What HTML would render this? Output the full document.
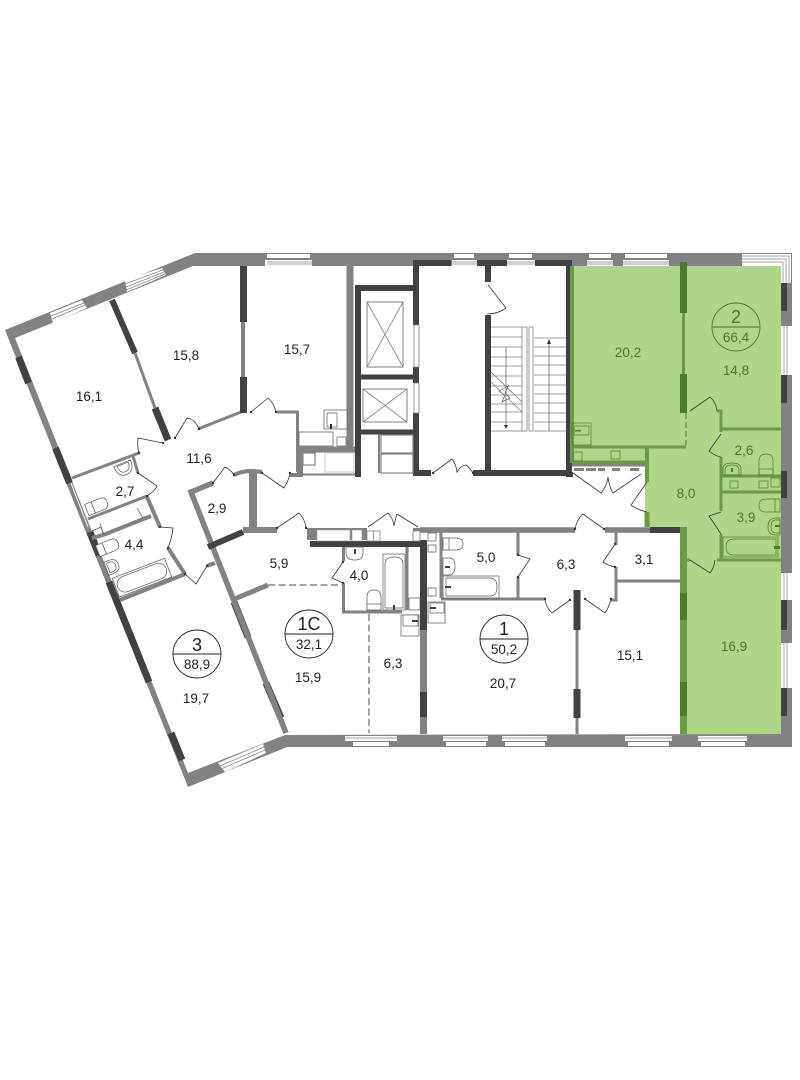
<!DOCTYPE html>
<html><head><meta charset="utf-8"><style>
html,body{margin:0;padding:0;background:#fff}
svg{display:block}
text{font-family:"Liberation Sans",sans-serif;font-size:13.5px;fill:#231f20;text-anchor:middle}
.g text,text.g{fill:#4a7a1e}
.w{fill:none;stroke:#808285}
.d{fill:none;stroke:#414042}
.m{fill:none;stroke:#6b9c45}
.k{fill:none;stroke:#4e7b26}
.dr{fill:none;stroke:#333;stroke-width:.8}
.f{fill:#fff;stroke:#58595b;stroke-width:.7}
.fg{fill:none;stroke:#4e7b26;stroke-width:.7}
.win{fill:#fff}
.wl{stroke:#808285;stroke-width:.7;fill:none}
.st{stroke:#808285;stroke-width:.8;fill:none}
</style></head><body>
<svg width="800" height="1080" viewBox="0 0 800 1080" xmlns="http://www.w3.org/2000/svg">
<rect width="800" height="1080" fill="#fff"/>
<!-- green -->
<polygon points="570,266 781,266 781,734 680,734 680,527 645,527 645,463 570,463" fill="#b0d588"/>
<!-- outer wall -->
<path fill="#808285" fill-rule="evenodd" d="M195,253 L792,253 L792,747 L287,747 L188,787 L5,330 Z M193,266 L15,338 L188,773 L285,735 L781,734 L781,266 Z"/>
<!-- top windows -->
<g class="win">
<rect x="267" y="254" width="43" height="4"/><rect x="265" y="260" width="47" height="6"/>
<rect x="454" y="254" width="20" height="4"/><rect x="452" y="260" width="25" height="6"/>
<rect x="509" y="254" width="23" height="4"/><rect x="507" y="260" width="28" height="6"/>
<rect x="589" y="254" width="22" height="4"/><rect x="587" y="260" width="26" height="6"/>
<rect x="625" y="254" width="42" height="4"/><rect x="623" y="260" width="46" height="6"/>
<rect x="742" y="254" width="49" height="12"/><rect x="781" y="254" width="10" height="29"/>
<rect x="781" y="326" width="11" height="49"/>
<rect x="781" y="573" width="11" height="27"/>
<rect x="781" y="643" width="11" height="45"/>
<rect x="345" y="736" width="52" height="5"/><rect x="353" y="742" width="36" height="4"/>
<rect x="443" y="736" width="45" height="5"/><rect x="446" y="742" width="40" height="4"/>
<rect x="502" y="736" width="45" height="5"/><rect x="505" y="742" width="40" height="4"/>
<rect x="625" y="736" width="47" height="5"/><rect x="628" y="742" width="41" height="4"/>
<rect x="698" y="736" width="49" height="5"/><rect x="701" y="742" width="44" height="4"/>
<polygon points="50,313 82,300 87,308 53,323"/>
<polygon points="125,280 162,268 166,275 127,292"/>
<polygon points="218,763 263,744 266,753 225,772"/>
</g>
<g class="wl">
<path d="M267,262H312M267,264H312M452,262H477M452,264H477M507,262H535M507,264H535M587,262H613M587,264H613M623,262H669M623,264H669"/>
<path d="M742,256H789V283M742,259H786V283M742,262H783V283"/>
<path d="M784,326V375M787,326V375M784,573V600M787,573V600M784,643V688M787,643V688"/>
<path d="M345,738H397M443,738H488M502,738H547M625,738H672M698,738H747"/>
<path d="M51,316L84,303M52,319L85,305M125,284L163,270M126,287L164,272M126,290L165,274"/>
<path d="M220,766L264,747M221,769L265,750"/>
</g>
<path d="M71,483L88,527" stroke="#fff" stroke-width="1" fill="none"/>
<!-- outer dark -->
<g class="d" stroke-width="7">
<path d="M18.5,357L28.5,383"/>
<path d="M55.5,448L69.5,483"/>
<path d="M90,532L99,555"/>
<path d="M109,582L149,682"/>
<path d="M171,733L182,760"/>
<path d="M234,602L248,637"/>
<path d="M266,683L281,718"/>
<path d="M784,283V311" stroke-width="6"/><path d="M784,375V403" stroke-width="6"/><path d="M784,471V498" stroke-width="6"/><path d="M784,600V630" stroke-width="6"/><path d="M784,688V716" stroke-width="6"/>
</g>
<!-- interior gray walls -->
<rect x="307" y="528" width="60" height="12" fill="#808285"/>
<rect x="413" y="528" width="7" height="12" fill="#808285"/>
<g class="w" stroke-width="3">
<path d="M135,353L155,408" stroke-width="3"/>
<path d="M198,429L241,412"/>
<path d="M243,322V377" stroke-width="4"/>
<path d="M72,478L139,453"/>
<path d="M133,456L138,473"/>
<path d="M88,519L147,496"/>
<path d="M103,535L151,516" stroke-width="4"/>
<path d="M92,538L103,535" stroke-width="4"/>
<path d="M147,497L160,527" stroke-width="4"/>
<path d="M168,548L185,574" stroke-width="4"/>
<path d="M120,600L185,574" stroke-width="4"/>
<path d="M207,566L215,563" stroke-width="4"/>
<path d="M213,483L191,492L286,733" stroke-width="5.5"/>
<path d="M243,530H277" stroke-width="6"/>
<path d="M253,470V533" stroke-width="8"/>
<path d="M234,475Q245,469 262,472" stroke-width="4"/>
<path d="M297.5,472V412H277" stroke-width="3"/>
<path d="M290,475H303" stroke-width="4"/>
<path d="M232,600L268,585" stroke-width="5"/>
<path d="M350,266V450" stroke-width="7"/>
<path d="M298,449.5H355" stroke-width="6"/>
<path d="M300,450V476" stroke-width="6"/>
<path d="M303,474.5H358" stroke-width="2"/>
<path d="M420,530H575" stroke-width="5.5"/>
<path d="M605,530H650" stroke-width="5.5"/>
<path d="M441,530V598" stroke-width="3"/>
<path d="M441,599H545"/>
<path d="M518,532V555M518,577V600"/>
<path d="M611,600H616V567M616,545V529"/>
<path d="M616,581H680"/>
<path d="M343.5,545V561M343.5,583V613"/>
<path d="M342,612H402"/>
<path d="M407,547V610"/>
<path d="M423.5,630V692M423.5,717V734" stroke-width="7"/>
<path d="M577,630V690M577,718V734"/>
<path d="M572,465H648" stroke-width="3"/>
</g>
<path class="w" stroke-width="1.5" d="M268,585H343M369,614V733" stroke-dasharray="7 3.5"/>
<!-- interior dark walls -->
<g class="d">
<path d="M112,300L135,353" stroke-width="6"/>
<path d="M155,408L168,440" stroke-width="7"/>
<path d="M243.5,266V322M243.5,377V413" stroke-width="7"/>
<path d="M208,547L243,532" stroke-width="6"/>
<path d="M413,263H451M477,263H507M535,263H572" stroke-width="6"/>
<path d="M416,265V325M416,367V383M416,413V476" stroke-width="6"/>
<path d="M355,288H416" stroke-width="6"/>
<path d="M358,285V477" stroke-width="6"/>
<path d="M358,377H416M358,432H416" stroke-width="5"/>
<path d="M414,473H431" stroke-width="6"/>
<path d="M488,264V282M488,315V473" stroke-width="6"/>
<path d="M473,473H572" stroke-width="6"/>
<path d="M569,263V477" stroke-width="6"/>
<path d="M310,544H420" stroke-width="6"/>
<path d="M423.5,540V630M423.5,692V717" stroke-width="7"/>
<path d="M577,590V630M577,689V718" stroke-width="7"/>
<path d="M650,530H680" stroke-width="6"/>
</g>
<path d="M414,325H419V367H414ZM414,383H419V413H414Z" fill="#fff" stroke="#808285" stroke-width=".8"/>
<!-- green walls -->
<g class="m" stroke-width="3">
<path d="M572,266V463" stroke-width="4"/>
<path d="M683.5,313V374"/>
<path d="M570,447H686"/>
<path d="M647,447V482" stroke-width="4"/>
<path d="M572,462H647"/>
<path d="M717,411H721V432"/>
<path d="M721,429H781"/>
<path d="M721,457V511"/>
<path d="M721,476H781M721,492H781"/>
<path d="M721,534V560"/>
<path d="M717,560H781M683,560H690"/>
<path d="M683.5,527V734" stroke-width="7"/>
<path d="M647,512V527" stroke-width="5"/>
</g>
<path class="m" stroke-width="1.5" stroke-dasharray="6 3" d="M686,413V445"/>
<g class="k">
<path d="M683.5,262V313M683.5,374V413" stroke-width="7"/>
<path d="M683.5,593V620M683.5,682V716" stroke-width="7"/>
</g>
<!-- elevators -->
<g style="fill:none;stroke:#808285;stroke-width:.8">
<rect x="367" y="302" width="36" height="65" style="stroke-width:1"/>
<path d="M367,302L403,367M403,302L367,367"/>
<rect x="363" y="389" width="44" height="33" style="stroke-width:1"/>
<path d="M363,389L407,422M407,389L363,422"/>
</g>
<!-- shafts -->
<g style="fill:none;stroke:#808285;stroke-width:1.2">
<rect x="381" y="435" width="32" height="18"/>
<rect x="381" y="454" width="32" height="19"/>
<path d="M379,434V473" stroke-width="2"/>
<rect x="303" y="453" width="12" height="12"/>
<rect x="325" y="453" width="29" height="19" stroke="#d0d0d0"/>
</g>
<g class="f">
<rect x="324" y="410" width="23" height="19"/>
<rect x="327" y="413" width="10" height="14"/>
<rect x="299" y="432" width="34" height="14"/>
<rect x="337" y="437" width="9" height="9"/>
</g>
<path d="M331,424V429" stroke="#333" stroke-width="2"/>
<!-- stairs -->
<g class="st">
<path d="M491,327H522M491,337H522M491,347H522M491,357H522M491,366H522M491,376H522M491,386H522M491,395H522M491,404H522M491,412H522M491,422H522"/>
<path d="M534,338H566M534,347H566M534,356H566M534,365H566M534,375H566M534,385H566M534,394H566M534,403H566M534,413H566M534,422H566"/>
<path d="M491,431H522M534,431H566" stroke-width="1.6" stroke="#bbb"/>
<rect x="522" y="327" width="5" height="104"/>
<rect x="529" y="327" width="4" height="104"/>
<path d="M491,372L522,402M491,382L522,412"/>
</g>
<polygon points="499,391 508,386 505,393 510,398 502,402 505,395" fill="#fff" stroke="#555" stroke-width=".7"/>
<path d="M506,347V426M549,342V431" stroke="#555" stroke-width=".7" fill="none"/>
<path d="M504,425H508L506,429ZM547,344H551L549,339Z" fill="#333"/>
<!-- corridor closet -->
<rect x="317" y="530" width="33" height="11" fill="#fff" stroke="#999" stroke-width=".6"/>
<rect x="352" y="530" width="10" height="11" fill="#fff" stroke="#999" stroke-width=".6"/>
<rect x="367" y="531" width="13" height="10" fill="#fff" stroke="#808285" stroke-width=".8"/>
<rect x="413" y="531" width="7" height="10" fill="#fff" stroke="#808285" stroke-width=".8"/>
<path d="M373.5,531V540" stroke="#808285" stroke-width=".8"/>
<!-- cupboard strip under green -->
<g fill="#808285"><rect x="574" y="468" width="10" height="3"/><rect x="586" y="468" width="10" height="3"/><rect x="598" y="468" width="7" height="3"/><rect x="612" y="468" width="8" height="3"/><rect x="630" y="468" width="9" height="3"/></g>
<rect x="566" y="472" width="7" height="5" fill="#414042"/>
<!-- doors -->
<g class="dr">
<path d="M175,438L187,418Q195,419 199,429"/>
<path d="M163,443L138,438Q137,446 139,453"/>
<path d="M138,473L157,486Q155,491 147,496"/>
<path d="M160,527L173,528Q172,538 168,548"/>
<path d="M185,574L196,584L207,566"/>
<path d="M213,483L225,467Q231,470 234,475"/>
<path d="M262,473L284,488Q289,480 290,473"/>
<path d="M251,412L268,398Q274,403 276,412"/>
<path d="M277,528L299,513Q305,519 306,528"/>
<path d="M368,527L388,513Q393,518 394,526M397,514Q395,520 394,526M397,514L418,527"/>
<path d="M433,473L452,459Q456,464 457,472Q460,466 466,465Q470,468 473,473"/>
<path d="M488,285L506,308Q498,314 487,314"/>
<path d="M518,555L530,559L518,577"/>
<path d="M545,599Q546,608 552,613L570,600"/>
<path d="M585,599L605,613Q609,607 611,599"/>
<path d="M575,529Q577,519 583,514L604,529"/>
<path d="M615,544L603,562Q609,566 615,567"/>
<path d="M573,473L601,493Q607,486 608,477Q609,486 613,493L641,474"/>
<path d="M647,482L631,505Q638,510 647,512"/>
<path d="M690,411L710,397Q716,402 717,411"/>
<path d="M721,434L709,451Q715,456 721,457"/>
<path d="M721,512L709,516L721,534"/>
<path d="M690,560L710,573Q714,568 715,560"/>
<path d="M343,562L332,578L343,583"/>
</g>
<g fill="#333">
<circle cx="175" cy="438" r="1.2"/><circle cx="199" cy="429" r="1.2"/><circle cx="163" cy="443" r="1.2"/><circle cx="139" cy="453" r="1.2"/><circle cx="138" cy="473" r="1.2"/><circle cx="147" cy="496" r="1.2"/><circle cx="160" cy="527" r="1.2"/><circle cx="168" cy="548" r="1.2"/><circle cx="185" cy="574" r="1.2"/><circle cx="207" cy="566" r="1.2"/><circle cx="213" cy="483" r="1.2"/><circle cx="234" cy="475" r="1.2"/><circle cx="262" cy="473" r="1.2"/><circle cx="290" cy="473" r="1.2"/><circle cx="251" cy="412" r="1.2"/><circle cx="276" cy="412" r="1.2"/><circle cx="277" cy="528" r="1.2"/><circle cx="306" cy="528" r="1.2"/><circle cx="433" cy="473" r="1.2"/><circle cx="473" cy="473" r="1.2"/><circle cx="518" cy="555" r="1.2"/><circle cx="518" cy="577" r="1.2"/><circle cx="545" cy="599" r="1.2"/><circle cx="570" cy="600" r="1.2"/><circle cx="585" cy="599" r="1.2"/><circle cx="611" cy="599" r="1.2"/><circle cx="575" cy="529" r="1.2"/><circle cx="604" cy="529" r="1.2"/><circle cx="615" cy="544" r="1.2"/><circle cx="615" cy="567" r="1.2"/><circle cx="343" cy="562" r="1.2"/><circle cx="343" cy="583" r="1.2"/>
</g>
<!-- left bathroom fixtures -->
<g class="f">
<g transform="rotate(-22 124 468)"><path d="M115,463H133Q133,475 124,475Q115,475 115,463Z"/><path d="M118,464H130Q130,472 124,472Q118,472 118,464Z"/></g>
<g transform="rotate(-22 97 506)"><rect x="86" y="500" width="7" height="12"/><path d="M93,500H102Q108,500 108,506Q108,512 102,512H93Z"/></g>
<g transform="rotate(-22 108 547)"><rect x="97" y="541" width="7" height="12"/><path d="M104,541H113Q119,541 119,547Q119,553 113,553H104Z"/></g>
<g transform="rotate(-22 111 567)"><path d="M106,560H111Q119,560 119,567Q119,574 111,574H106Z"/><path d="M108,562H111Q116,562 116,567Q116,572 111,572H108Z"/></g>
<g transform="rotate(-21 141 578)"><rect x="114" y="568" width="56" height="20"/><rect x="116" y="570" width="52" height="16" rx="8"/></g>
<path style="fill:none" d="M100,523L103,534M137,508L143,518"/>
<path style="fill:none" d="M92,531L101,527L104,535"/>
</g>
<!-- 1C bath -->
<g class="f">
<rect x="383" y="554" width="22" height="56"/>
<path d="M385,608V564Q385,557 394,557Q403,557 403,564V608Z"/>
<path d="M367,610V597Q367,590 374,590Q381,590 381,597V610Z"/>
<rect x="367" y="604" width="14" height="6"/>
<path d="M346,547H363V553Q363,560 354.5,560Q346,560 346,553Z"/>
<rect x="409" y="598" width="11" height="12"/>
<rect x="401" y="615" width="18" height="21"/>
<rect x="403" y="615" width="15" height="11"/>
</g>
<!-- apt 1 bath -->
<g class="f">
<rect x="443" y="576" width="56" height="22"/>
<path d="M446,596V578H490Q497,578 497,587Q497,596 490,596Z"/>
<path d="M443,538H456Q463,538 463,544Q463,550 456,550H443Z"/><path d="M443,538H449V550H443Z"/>
<path d="M443,558H449Q455,558 455,566Q455,575 449,575H443Z"/>
<rect x="428" y="533" width="8" height="8"/><rect x="428" y="545" width="8" height="7"/><rect x="428" y="588" width="8" height="8"/>
<rect x="428" y="602" width="17" height="21"/><rect x="430" y="603" width="14" height="10"/>
</g>
<g fill="#414042"><rect x="393" y="605" width="2" height="5"/><rect x="354" y="549" width="2" height="5"/><rect x="445" y="586" width="6" height="2"/><rect x="445" y="566" width="5" height="2"/><rect x="430" y="607" width="6" height="2"/><rect x="412" y="620" width="6" height="2"/></g>
<!-- green fixtures -->
<g class="fg">
<rect x="572" y="423" width="19" height="22"/><rect x="574" y="426" width="15" height="9" rx="1"/>
<rect x="573" y="452" width="9" height="9"/><rect x="611" y="451" width="9" height="8"/>
<path d="M723,475V469Q723,463 732,463Q741,463 741,469V475Z"/>
<path d="M725,475V470Q725,465 732,465Q739,465 739,470V475Z"/>
<path d="M759,475V461Q759,454 766,454Q773,454 773,461V475Z"/><rect x="759" y="469" width="14" height="6"/>
<rect x="730" y="481" width="8" height="7"/><rect x="759" y="481" width="9" height="7"/><rect x="771" y="478" width="9" height="9"/>
<path d="M780,499H766Q759,499 759,505.5Q759,512 766,512H780Z"/><path d="M775,499V512"/>
<path d="M780,518H776Q768,518 768,527Q768,535 776,535H780Z"/><path d="M780,520H776Q771,520 771,527Q771,533 776,533H780Z"/>
<rect x="723" y="537" width="55" height="20"/>
<path d="M776,539H734Q726,539 726,547Q726,555 734,555H776Z"/>
</g>
<g fill="#4e7b26"><rect x="774" y="546" width="6" height="3"/><rect x="775" y="525" width="5" height="2"/><rect x="575" y="430" width="6" height="1.5"/><rect x="731" y="468" width="2" height="4"/></g>
<!-- circles -->
<g fill="none" stroke="#231f20" stroke-width=".9">
<circle cx="197" cy="654" r="24"/><path d="M173,654H221"/>
<circle cx="309" cy="634" r="24"/><path d="M285,634H333"/>
<circle cx="504" cy="639" r="24"/><path d="M480,639H528"/>
</g>
<g fill="none" stroke="#4a7a1e" stroke-width=".9"><circle cx="736" cy="327" r="24"/><path d="M712,327H760"/></g>
<!-- labels -->
<text x="89" y="401">16,1</text>
<text x="186" y="360">15,8</text>
<text x="297" y="354">15,7</text>
<text x="199" y="463">11,6</text>
<text x="125" y="496">2,7</text>
<text x="217" y="513">2,9</text>
<text x="134" y="549">4,4</text>
<text x="279" y="568">5,9</text>
<text x="359" y="580">4,0</text>
<text x="486" y="562">5,0</text>
<text x="566" y="569">6,3</text>
<text x="644" y="564">3,1</text>
<text x="308" y="682">15,9</text>
<text x="393" y="668">6,3</text>
<text x="503" y="688">20,7</text>
<text x="630" y="660">15,1</text>
<text x="196" y="703">19,7</text>
<g class="g">
<text x="628" y="357">20,2</text>
<text x="736" y="375">14,8</text>
<text x="686" y="498">8,0</text>
<text x="744" y="455">2,6</text>
<text x="746" y="522">3,9</text>
<text x="734" y="651">16,9</text>
<text x="736" y="323" style="font-size:18px">2</text>
<text x="736" y="342">66,4</text>
</g>
<text x="197" y="651" style="font-size:18px">3</text>
<text x="197" y="669">88,9</text>
<text x="309" y="630" style="font-size:18px">1С</text>
<text x="309" y="649">32,1</text>
<text x="504" y="635" style="font-size:18px">1</text>
<text x="504" y="654">50,2</text>
</svg>
</body></html>
